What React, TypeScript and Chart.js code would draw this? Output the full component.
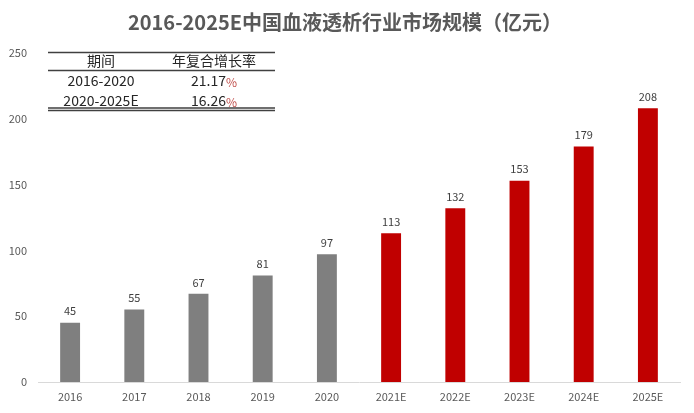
import { useEffect, useRef } from "react";
import { Chart, registerables } from "chart.js";
import type { ChartConfiguration, Plugin } from "chart.js";

Chart.register(...registerables);

const years = ["2016", "2017", "2018", "2019", "2020", "2021E", "2022E", "2023E", "2024E", "2025E"];
const marketSize = [45, 55, 67, 81, 97, 113, 132, 153, 179, 208];
const barColors = ["#7f7f7f", "#7f7f7f", "#7f7f7f", "#7f7f7f", "#7f7f7f", "#c00000", "#c00000", "#c00000", "#c00000", "#c00000"];
const tableHeader = ["期间", "年复合增长率"];
const tablePeriods = ["2016-2020", "2020-2025E"];
const tableRates = ["21.17", "16.26"];

const FONT = "'Noto Sans CJK SC', 'Noto Sans', sans-serif";

const titlePlugin: Plugin = {
  id: "titleText",
  afterDraw(chart) {
    const ctx = chart.ctx;
    ctx.save();
    ctx.font = `bold 20px ${FONT}`;
    ctx.fillStyle = "#595959";
    ctx.textAlign = "center";
    ctx.textBaseline = "middle";
    ctx.fillText("2016-2025E中国血液透析行业市场规模（亿元）", 345, 22);
    ctx.restore();
  },
};

const labelPlugin: Plugin = {
  id: "barLabels",
  afterDatasetsDraw(chart) {
    const ctx = chart.ctx;
    const meta = chart.getDatasetMeta(0);
    ctx.save();
    ctx.font = `11px ${FONT}`;
    ctx.fillStyle = "#404040";
    ctx.textAlign = "center";
    ctx.textBaseline = "bottom";
    meta.data.forEach((bar, i) => {
      ctx.fillText(String(marketSize[i]), bar.x, bar.y - 6);
    });
    ctx.restore();
  },
};

const tablePlugin: Plugin = {
  id: "cagrTable",
  afterDraw(chart) {
    const ctx = chart.ctx;
    const left = 48;
    const right = 275;
    const col1 = 101;
    const col2 = 214;
    ctx.save();
    ctx.strokeStyle = "#404040";
    ctx.lineWidth = 1.3;
    ctx.beginPath();
    ctx.moveTo(left, 52.5);
    ctx.lineTo(right, 52.5);
    ctx.moveTo(left, 70.5);
    ctx.lineTo(right, 70.5);
    ctx.stroke();
    ctx.lineWidth = 1.5;
    ctx.beginPath();
    ctx.moveTo(left, 108);
    ctx.lineTo(right, 108);
    ctx.moveTo(left, 110.5);
    ctx.lineTo(right, 110.5);
    ctx.stroke();

    ctx.font = `14px ${FONT}`;
    ctx.fillStyle = "#262626";
    ctx.textAlign = "center";
    ctx.textBaseline = "middle";
    ctx.fillText(tableHeader[0], col1, 61);
    ctx.fillText(tableHeader[1], col2, 61);
    tablePeriods.forEach((p, i) => {
      const y = 81 + i * 20;
      ctx.font = `14px ${FONT}`;
      ctx.fillStyle = "#262626";
      ctx.textAlign = "center";
      ctx.fillText(p, col1, y);
      const num = tableRates[i];
      const wNum = ctx.measureText(num).width;
      ctx.font = `12px ${FONT}`;
      const wPct = ctx.measureText("%").width;
      const start = col2 - (wNum + wPct) / 2;
      ctx.textAlign = "left";
      ctx.font = `14px ${FONT}`;
      ctx.fillText(num, start, y);
      ctx.font = `12px ${FONT}`;
      ctx.fillStyle = "#c0504d";
      ctx.fillText("%", start + wNum, y + 1);
    });
    ctx.restore();
  },
};

export default function App() {
  const canvasRef = useRef<HTMLCanvasElement>(null);

  useEffect(() => {
    document.body.style.margin = "0";
    if (!canvasRef.current) return;

    const config: ChartConfiguration<"bar"> = {
      type: "bar",
      data: {
        labels: years,
        datasets: [
          {
            data: marketSize,
            backgroundColor: barColors,
            barPercentage: 0.31,
            categoryPercentage: 1,
          },
        ],
      },
      options: {
        animation: false,
        responsive: true,
        maintainAspectRatio: false,
        layout: { padding: { top: 53, right: 14, bottom: 0, left: 0 } },
        plugins: {
          legend: { display: false },
          tooltip: { enabled: false },
          title: { display: false },
        },
        scales: {
          x: {
            grid: { display: false, drawTicks: false },
            border: { display: true, color: "#d9d9d9", width: 1 },
            ticks: { color: "#595959", font: { size: 11, family: FONT }, padding: 8, maxRotation: 0 },
            afterFit(scale) {
              scale.height = 31;
            },
          },
          y: {
            min: 0,
            max: 250,
            grid: { display: false, drawTicks: false },
            border: { display: false },
            ticks: { stepSize: 50, color: "#595959", font: { size: 11, family: FONT }, padding: 11 },
            afterFit(scale) {
              scale.width = 38;
            },
          },
        },
      },
      plugins: [titlePlugin, labelPlugin, tablePlugin],
    };

    const chart = new Chart(canvasRef.current, config);
    return () => {
      chart.destroy();
    };
  }, []);

  return (
    <div style={{ width: 694, height: 413, position: "relative", background: "#fff" }}>
      <canvas ref={canvasRef}></canvas>
    </div>
  );
}
